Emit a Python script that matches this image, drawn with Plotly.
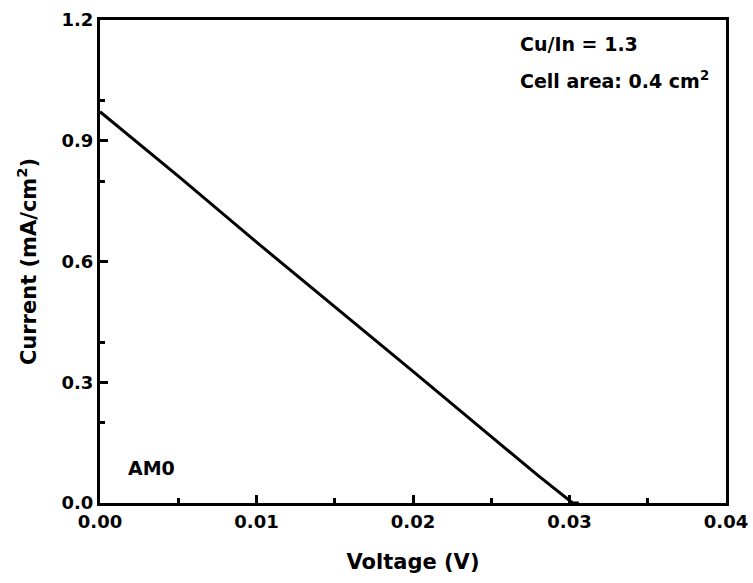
import plotly.graph_objects as go

voltage = [0.0, 0.005, 0.010, 0.015, 0.020, 0.025, 0.028, 0.0302, 0.0306]
current = [0.972, 0.812, 0.648, 0.488, 0.327, 0.165, 0.068, 0.0, 0.0]

x_ticks = [0.00, 0.01, 0.02, 0.03, 0.04]
x_labels = ["0.00", "0.01", "0.02", "0.03", "0.04"]
y_ticks = [0.0, 0.3, 0.6, 0.9, 1.2]
y_labels = ["0.0", "0.3", "0.6", "0.9", "1.2"]

FONT = "DejaVu Sans, sans-serif"

fig = go.Figure()
fig.add_trace(go.Scatter(x=voltage, y=current, mode="lines",
                         line=dict(color="black", width=3), showlegend=False))

axis_common = dict(
    showline=True, linecolor="black", linewidth=3, mirror=True,
    ticks="inside", ticklen=8, tickwidth=3, tickcolor="black",
    showgrid=False, zeroline=False, automargin=False,
    tickfont=dict(family=FONT, size=18, color="black", weight="bold"),
    minor=dict(ticks="inside", ticklen=5, tickwidth=3, tickcolor="black", nticks=2),
)

fig.update_xaxes(range=[0, 0.04], tickvals=x_ticks, ticktext=x_labels,
                 title=dict(text="Voltage (V)", font=dict(family=FONT, size=21, color="black", weight="bold"), standoff=24),
                 **axis_common)
fig.update_yaxes(range=[0, 1.2], tickvals=y_ticks, ticktext=y_labels,
                 title=dict(text="Current (mA/cm<sup>2</sup>)", font=dict(family=FONT, size=21, color="black", weight="bold"), standoff=20),
                 **axis_common)

fig.add_annotation(xref="paper", yref="paper", x=0.668, y=0.950, xanchor="left", yanchor="middle",
                   text="Cu/In = 1.3", showarrow=False,
                   font=dict(family=FONT, size=19, color="black", weight="bold"))
fig.add_annotation(xref="paper", yref="paper", x=0.668, y=0.876, xanchor="left", yanchor="middle",
                   text="Cell area: 0.4 cm<sup>2</sup>", showarrow=False,
                   font=dict(family=FONT, size=19, color="black", weight="bold"))
fig.add_annotation(xref="paper", yref="paper", x=0.041, y=0.072, xanchor="left", yanchor="middle",
                   text="AM0", showarrow=False,
                   font=dict(family=FONT, size=19, color="black", weight="bold"))

fig.update_layout(
    width=753, height=583,
    margin=dict(l=100, r=27, t=20, b=80),
    plot_bgcolor="white", paper_bgcolor="white",
)

fig.write_html("out.html")
